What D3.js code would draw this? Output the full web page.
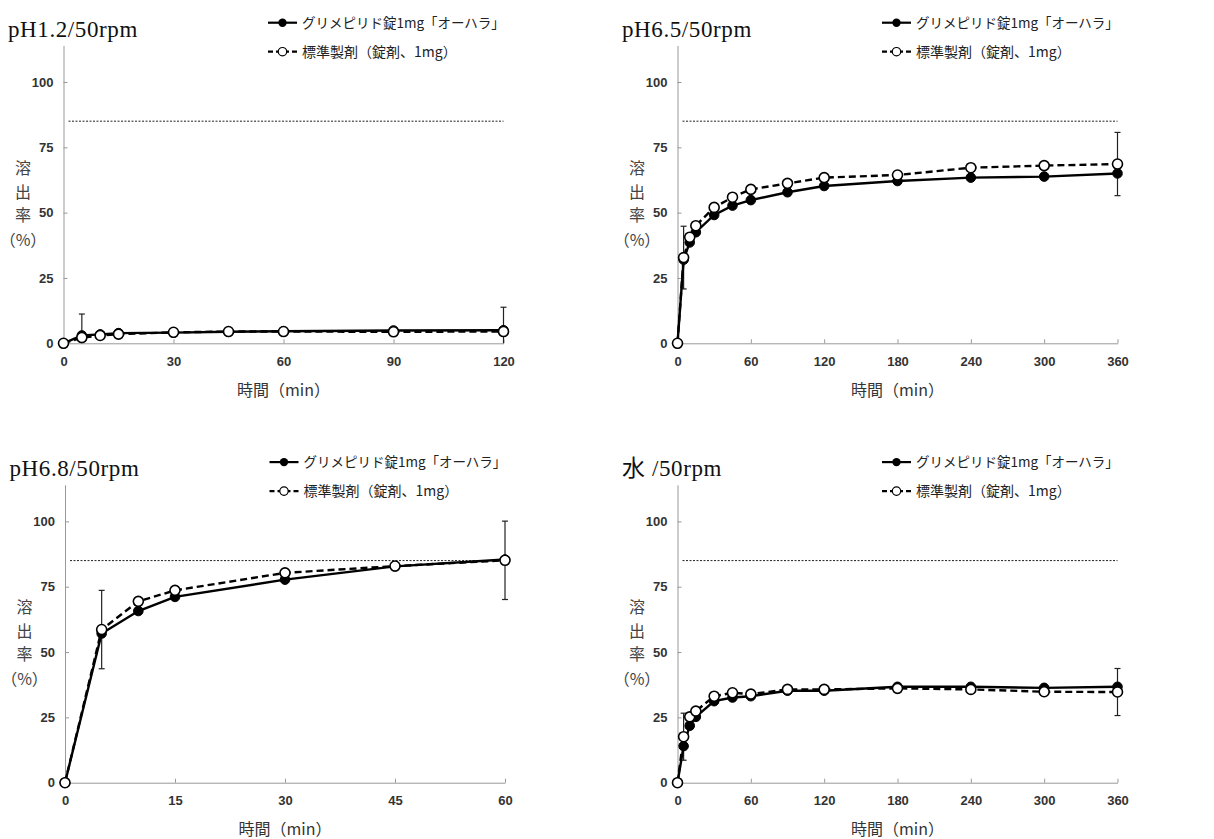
<!DOCTYPE html>
<html><head><meta charset="utf-8">
<script src="https://cdn.jsdelivr.net/npm/d3@7"></script>
<style>body{margin:0;background:#fff}</style>
</head><body><svg id="c" width="1214" height="839"></svg>
<script>
// ---- data ----
const legendTest = "グリメピリド錠1mg「オーハラ」";
const legendRef = "標準製剤（錠剤、1mg）";
const xLabel = "時間（min）";
const yLabelParts = ["溶", "出", "率", "（%）"];
const yTicks = [0, 25, 50, 75, 100];
const limitLine = 85;

const titles = ["pH1.2/50rpm", "pH6.5/50rpm", "pH6.8/50rpm", "水 /50rpm"];

const times1 = [0, 5, 10, 15, 30, 45, 60, 90, 120];
const test1 = [0, 3.0, 3.4, 3.9, 4.1, 4.4, 4.6, 4.9, 5.0];
const ref1 = [0, 2.2, 3.0, 3.5, 4.2, 4.5, 4.5, 4.4, 4.5];
const sd1 = [null, 9.0, null, null, null, null, null, null, 9.3];
const xTicks1 = [0, 30, 60, 90, 120];

const times2 = [0, 5, 10, 15, 30, 45, 60, 90, 120, 180, 240, 300, 360];
const test2 = [0, 32, 38.6, 42.5, 49.1, 52.7, 54.8, 57.8, 60.2, 62.1, 63.4, 63.8, 65.0];
const ref2 = [0, 32.8, 40.6, 45.0, 52.0, 55.9, 58.9, 61.2, 63.4, 64.4, 67.2, 68.0, 68.6];
const sd2 = [null, 12.0, null, null, null, null, null, null, null, null, null, null, 12.1];
const xTicks2 = [0, 60, 120, 180, 240, 300, 360];

const times3 = [0, 5, 10, 15, 30, 45, 60];
const test3 = [0, 57.1, 65.7, 71.1, 77.7, 82.8, 85.4];
const ref3 = [0, 58.6, 69.4, 73.6, 80.3, 82.9, 85.1];
const sd3 = [null, 15.0, null, null, null, null, 15.0];
const xTicks3 = [0, 15, 30, 45, 60];

const times4 = [0, 5, 10, 15, 30, 45, 60, 90, 120, 180, 240, 300, 360];
const test4 = [0, 14.0, 21.8, 25.2, 31.2, 32.6, 33.1, 35.2, 35.2, 36.7, 36.7, 36.3, 36.7];
const ref4 = [0, 17.6, 25.2, 27.4, 33.1, 34.4, 33.9, 35.7, 35.7, 36.1, 35.7, 34.8, 34.7];
const sd4 = [null, 9.0, null, null, null, null, null, null, null, null, null, null, 9.0];
const xTicks4 = [0, 60, 120, 180, 240, 300, 360];

const panels = [
  {title: titles[0], t: times1, a: test1, b: ref1, sd: sd1, ticks: xTicks1},
  {title: titles[1], t: times2, a: test2, b: ref2, sd: sd2, ticks: xTicks2},
  {title: titles[2], t: times3, a: test3, b: ref3, sd: sd3, ticks: xTicks3},
  {title: titles[3], t: times4, a: test4, b: ref4, sd: sd4, ticks: xTicks4}
];
const offsets = [[0, 0], [614, 0], [1.5, 439.4], [614, 439.4]];

// ---- drawing ----
const svg = d3.select("#c");
const JP = "'Noto Sans CJK JP', sans-serif";
const NUM = "'Liberation Sans', Arial, sans-serif";

panels.forEach((p, i) => {
  const [ox, oy] = offsets[i];
  const g = svg.append("g").attr("transform", `translate(${ox},${oy})`);
  const xMax = p.ticks[p.ticks.length - 1];
  const x = d3.scaleLinear().domain([0, xMax]).range([63.5, 503.5]);
  const y = d3.scaleLinear().domain([0, 114]).range([343.3, 45.4]);

  // title
  g.append("text").attr("x", 8).attr("y", 37)
    .attr("font-family", "'Liberation Serif', 'Noto Sans CJK JP', serif")
    .attr("font-size", 23).attr("letter-spacing", 0.6).attr("fill", "#111")
    .text(p.title);

  // axes
  const xa = g.append("g").attr("transform", `translate(0,${y(0)})`)
    .call(d3.axisBottom(x).tickValues(p.ticks).tickSizeInner(-4).tickSizeOuter(0).tickPadding(13.5));
  const ya = g.append("g").attr("transform", `translate(${x(0)},0)`)
    .call(d3.axisLeft(y).tickValues(yTicks).tickSizeInner(-4).tickSizeOuter(0).tickPadding(10));
  [xa, ya].forEach(a => {
    a.selectAll("path,line").attr("stroke", "#999").attr("stroke-width", 1);
    a.selectAll("text").attr("font-family", NUM).attr("font-size", 13)
      .attr("font-weight", "bold").attr("fill", "#333");
  });

  // limit line
  g.append("line").attr("x1", x(0) + 5).attr("x2", x(xMax))
    .attr("y1", y(limitLine)).attr("y2", y(limitLine))
    .attr("stroke", "#222").attr("stroke-width", 1).attr("stroke-dasharray", "2,1.5");

  // axis labels
  g.append("text").attr("x", (x(0) + x(xMax)) / 2).attr("y", 396)
    .attr("text-anchor", "middle").attr("font-family", JP).attr("font-size", 16)
    .attr("fill", "#333").text(xLabel);
  const yl = g.append("g").attr("font-family", JP).attr("font-size", 16).attr("fill", "#444");
  const yPos = [168, 192, 215, 240];
  yLabelParts.forEach((s, k) => {
    yl.append("text").attr("x", 23).attr("y", yPos[k]).attr("dy", "0.35em")
      .attr("text-anchor", "middle").text(s);
  });

  // error bars (reference series)
  const eb = g.append("g").attr("stroke", "#222").attr("stroke-width", 1.2);
  p.t.forEach((t, k) => {
    if (p.sd[k] == null) return;
    const m = p.b[k], s = p.sd[k];
    const lo = Math.max(0, m - s), hi = m + s;
    eb.append("line").attr("x1", x(t)).attr("x2", x(t)).attr("y1", y(lo)).attr("y2", y(hi));
    [lo, hi].forEach(v => {
      if (v <= 0) return;
      eb.append("line").attr("x1", x(t) - 3).attr("x2", x(t) + 3).attr("y1", y(v)).attr("y2", y(v));
    });
  });

  const line = d3.line().x(d => x(d[0])).y(d => y(d[1]));
  const ptsA = p.t.map((t, k) => [t, p.a[k]]);
  const ptsB = p.t.map((t, k) => [t, p.b[k]]);

  g.append("path").attr("d", line(ptsB)).attr("fill", "none").attr("stroke", "#000")
    .attr("stroke-width", 2.4).attr("stroke-dasharray", "7,4");
  g.append("path").attr("d", line(ptsA)).attr("fill", "none").attr("stroke", "#000")
    .attr("stroke-width", 2.4);

  g.selectAll(".fa").data(ptsA).enter().append("circle")
    .attr("cx", d => x(d[0])).attr("cy", d => y(d[1])).attr("r", 4.8)
    .attr("fill", "#000").attr("stroke", "#000").attr("stroke-width", 1);
  g.selectAll(".ob").data(ptsB).enter().append("circle")
    .attr("cx", d => x(d[0])).attr("cy", d => y(d[1])).attr("r", 5)
    .attr("fill", "#fff").attr("stroke", "#000").attr("stroke-width", 1.6);

  // legend
  const lg = g.append("g");
  lg.append("line").attr("x1", 268).attr("x2", 297).attr("y1", 22.7).attr("y2", 22.7)
    .attr("stroke", "#000").attr("stroke-width", 2.2);
  lg.append("circle").attr("cx", 282.5).attr("cy", 22.7).attr("r", 4.2).attr("fill", "#000");
  lg.append("text").attr("x", 302).attr("y", 22.7).attr("dy", "0.36em")
    .attr("font-family", JP).attr("font-size", 13.5).attr("fill", "#222").text(legendTest);
  lg.append("line").attr("x1", 268).attr("x2", 297).attr("y1", 51.7).attr("y2", 51.7)
    .attr("stroke", "#000").attr("stroke-width", 2.2).attr("stroke-dasharray", "5,3");
  lg.append("circle").attr("cx", 282.5).attr("cy", 51.7).attr("r", 4.2)
    .attr("fill", "#fff").attr("stroke", "#000").attr("stroke-width", 1.2);
  lg.append("text").attr("x", 302).attr("y", 51.7).attr("dy", "0.36em")
    .attr("font-family", JP).attr("font-size", 14).attr("fill", "#222").text(legendRef);
});
</script>
</body></html>
